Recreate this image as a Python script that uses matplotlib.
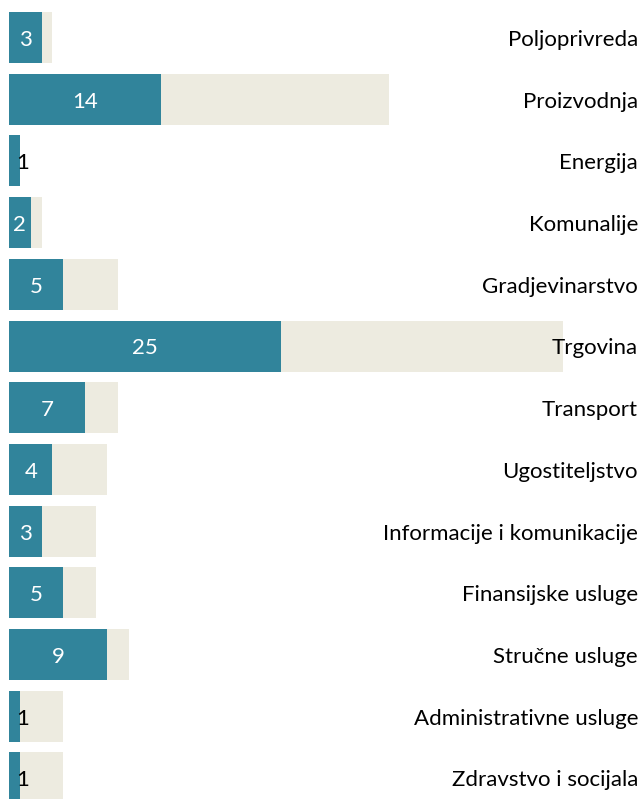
import matplotlib
matplotlib.use("Agg")
import matplotlib.pyplot as plt
import matplotlib.transforms as mtransforms

plt.rcParams['font.family'] = ['Lato', 'DejaVu Sans']

sectors = [
    "Poljoprivreda", "Proizvodnja", "Energija", "Komunalije", "Gradjevinarstvo",
    "Trgovina", "Transport", "Ugostiteljstvo", "Informacije i komunikacije",
    "Finansijske usluge", "Stručne usluge", "Administrativne usluge",
    "Zdravstvo i socijala",
]
values = [3, 14, 1, 2, 5, 25, 7, 4, 3, 5, 9, 1, 1]
totals = [4, 35, 1, 3, 10, 51, 10, 9, 8, 8, 11, 5, 5]

teal = "#31849B"
beige = "#EDEBE0"

W, H = 641, 799
fig = plt.figure(figsize=(W / 100, H / 100), dpi=100)
ax = fig.add_axes([0, 0, 1, 1])

px_per_unit = 10.87
x0_px = 9
ax.set_xlim(-x0_px / px_per_unit, (W - x0_px) / px_per_unit)
row = 61.7
ax.set_ylim((H - 37.5) / row, -37.5 / row)

ys = list(range(len(sectors)))
bh = 51 / row
ax.barh(ys, totals, height=bh, color=beige, left=0)
ax.barh(ys, values, height=bh, color=teal, left=0)

fs = 16
for y, v in zip(ys, values):
    if v >= 2:
        ax.text(v / 2, y + 0.04, str(v), ha="center", va="center",
                color="white", fontsize=fs)
    else:
        ax.annotate(str(v), (v, y + 0.04), xytext=(3, 0), textcoords="offset pixels",
                    ha="center", va="center", color="black", fontsize=fs)

trans = mtransforms.blended_transform_factory(ax.transAxes, ax.transData)
for y, name in zip(ys, sectors):
    ax.text(1 - 3 / W, y + 0.04, name, transform=trans, ha="right", va="center",
            color="black", fontsize=fs)

ax.axis("off")
fig.savefig("out.png", dpi=100)
